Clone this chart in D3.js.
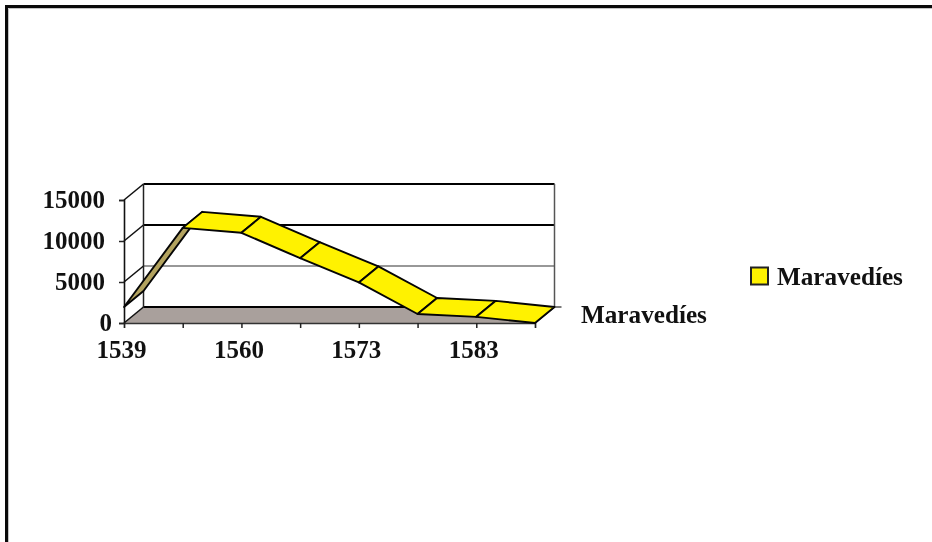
<!DOCTYPE html>
<html>
<head>
<meta charset="utf-8">
<script src="https://cdn.jsdelivr.net/npm/d3@7"></script>
<style>
  html, body { margin: 0; padding: 0; background: #fff; overflow: hidden; }
  text { font-family: "Liberation Serif", serif; font-weight: bold; fill: #111; }
</style>
</head>
<body>
<div class="container"></div>
<script>
const wd = 932
const ht = 542

// every other category label is skipped by the chart
const categories = ["1539", "", "1560", "", "1573", "", "1583", ""]
const maravedies = [1950, 11600, 11000, 7900, 4950, 1100, 750, 0]
const yTicks = [0, 5000, 10000, 15000]
const seriesName = "Maravedíes"

const depthX = 19.5
const depthY = -16

const xScale = d3.scaleLinear()
.domain([0, categories.length - 1])
.range([124, 535])

const yScale = d3.scaleLinear()
.domain([0, 15000])
.range([323, 200])

// d = 0 is the front plane, d = 1 the back wall
const px = (i, d) => xScale(i) + d * depthX
const py = (v, d) => yScale(v) + d * depthY
const path = d3.line().x(d => d[0]).y(d => d[1])
const poly = pts => path(pts) + "Z"

const svg = d3.select(".container")
.append("svg")
.attr("width", wd)
.attr("height", ht)
.style("display", "block")
.style("filter", "blur(0.4px)")

// picture frame
svg.append("path")
.attr("d", path([[6.5, ht + 5], [6.5, 6.5], [wd + 5, 6.5]]))
.attr("fill", "none")
.attr("stroke", "#0a0a0a")
.attr("stroke-width", 3)
svg.append("path")
.attr("d", path([[8.5, ht + 5], [8.5, 8.5], [wd + 5, 8.5]]))
.attr("fill", "none")
.attr("stroke", "#c4c4c4")
.attr("stroke-width", 1)

const last = categories.length - 1

// floor
svg.append("path")
.attr("d", poly([[px(0, 0), py(0, 0)], [px(0, 1), py(0, 1)], [px(last, 1), py(0, 1)], [px(last, 0), py(0, 0)]]))
.attr("fill", "#a9a09c")

// back wall gridlines and the slanted lines on the side wall
yTicks.forEach((t, i) => {
  svg.append("line")
  .attr("x1", px(0, 1)).attr("x2", px(last, 1))
  .attr("y1", py(t, 1)).attr("y2", py(t, 1))
  .attr("stroke", t == 5000 ? "#333" : "#000")
  .attr("stroke-width", t == 5000 ? 1.1 : 2)
  svg.append("line")
  .attr("x1", px(0, 0)).attr("x2", px(0, 1))
  .attr("y1", py(t, 0)).attr("y2", py(t, 1))
  .attr("stroke", "#111")
  .attr("stroke-width", 1.6)
})

// back wall edges
svg.append("line")
.attr("x1", px(0, 1)).attr("x2", px(0, 1))
.attr("y1", py(0, 1)).attr("y2", py(15000, 1))
.attr("stroke", "#222").attr("stroke-width", 1.5)
svg.append("line")
.attr("x1", px(last, 1)).attr("x2", px(last, 1))
.attr("y1", py(0, 1)).attr("y2", py(15000, 1))
.attr("stroke", "#555").attr("stroke-width", 1.5)
svg.append("line")
.attr("x1", px(last, 1)).attr("x2", px(last, 1) + 7)
.attr("y1", py(0, 1)).attr("y2", py(0, 1))
.attr("stroke", "#333").attr("stroke-width", 1.3)
svg.append("line")
.attr("x1", px(last, 0)).attr("x2", px(last, 1))
.attr("y1", py(0, 0)).attr("y2", py(0, 1))
.attr("stroke", "#333").attr("stroke-width", 1.3)

// axes
const yAxis = d3.axisLeft(yScale)
.tickValues(yTicks)
.tickSize(5)
.tickFormat(d => d)

const xAxis = d3.axisBottom(xScale)
.tickValues(d3.range(categories.length))
.tickSize(5)
.tickFormat(i => categories[i])

const gy = svg.append("g").attr("transform", "translate(" + xScale(0) + ",0)").call(yAxis)
const gx = svg.append("g").attr("transform", "translate(0," + yScale(0) + ")").call(xAxis)

gy.selectAll("path").attr("stroke", "#111").attr("stroke-width", 1.6)
gx.selectAll("path").attr("stroke", "#333").attr("stroke-width", 1.3)
svg.selectAll(".tick line").attr("stroke", "#222").attr("stroke-width", 1.5)
svg.selectAll(".tick text")
.attr("font-family", "Liberation Serif")
.attr("font-weight", "bold")
.attr("font-size", 25)
.attr("fill", "#111")
gy.selectAll(".tick text")
.attr("dy", "0.3em")
.attr("x", d => d == 0 ? -12 : -19)
gx.selectAll(".tick text")
.attr("x", -3)
.attr("y", 35)
.attr("dy", 0)

// the ribbon, one panel per segment
const segments = d3.pairs(maravedies.map((v, i) => ({v: v, i: i})))

svg.append("g").selectAll("path")
.data(segments)
.enter()
.append("path")
.attr("d", d => poly([
  [px(d[0].i, 0), py(d[0].v, 0)],
  [px(d[1].i, 0), py(d[1].v, 0)],
  [px(d[1].i, 1), py(d[1].v, 1)],
  [px(d[0].i, 1), py(d[0].v, 1)]
]))
.attr("fill", (d, i) => i == 0 ? "#b3a35f" : "#fff200")
.attr("stroke", "#050505")
.attr("stroke-width", 1.9)
.attr("stroke-linejoin", "round")

// depth axis label
svg.append("text")
.attr("x", 581)
.attr("y", 323)
.attr("font-size", 25.2)
.text(seriesName)

// legend
svg.append("rect")
.attr("x", 751)
.attr("y", 267.5)
.attr("width", 17)
.attr("height", 17)
.attr("fill", "#fff200")
.attr("stroke", "#222")
.attr("stroke-width", 2)

svg.append("text")
.attr("x", 777)
.attr("y", 285)
.attr("font-size", 25.2)
.text(seriesName)
</script>
</body>
</html>
